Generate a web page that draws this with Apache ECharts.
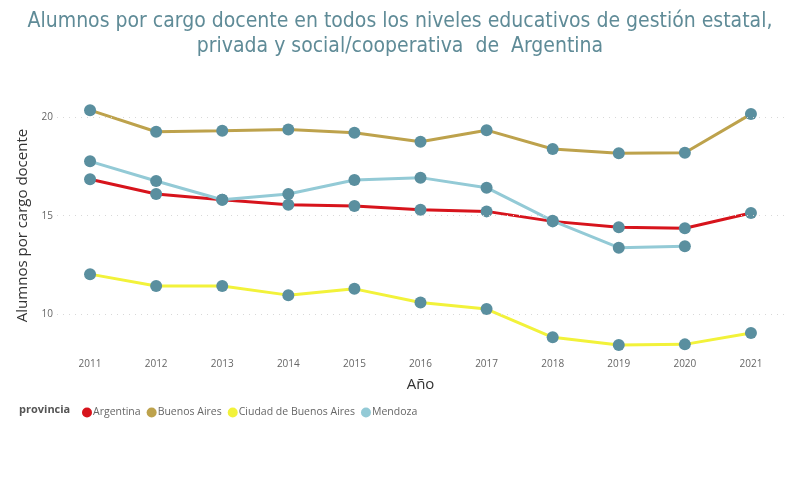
<!DOCTYPE html>
<html>
<head>
<meta charset="utf-8">
<script src="https://cdn.jsdelivr.net/npm/echarts@6/dist/echarts.min.js"></script>
<style>
  html, body { margin: 0; padding: 0; background: #fff; }
  #chart { width: 796px; height: 500px; }
</style>
</head>
<body>
<div id="chart"></div>
<script>
// datos
var anios = ['2011', '2012', '2013', '2014', '2015', '2016', '2017', '2018', '2019', '2020', '2021'];
var argentina = [16.86, 16.11, 15.81, 15.56, 15.49, 15.30, 15.22, 14.71, 14.41, 14.36, 15.14];
var buenosAires = [20.38, 19.28, 19.33, 19.40, 19.23, 18.77, 19.36, 18.40, 18.18, 18.21, 20.18];
var ciudadBA = [12.02, 11.42, 11.42, 10.95, 11.27, 10.57, 10.24, 8.80, 8.41, 8.44, 9.02];
var mendoza = [17.77, 16.77, 15.81, 16.11, 16.82, 16.94, 16.43, 14.74, 13.37, 13.44, null];
var ticksY = [10, 15, 20];

var nombres = ['Argentina', 'Buenos Aires', 'Ciudad de Buenos Aires', 'Mendoza'];
var colores = ['#d7141c', '#bda24c', '#f2f23a', '#93cad6'];
var marcador = '#5a8f9f';

var myChart = echarts.init(document.getElementById('chart'));

function serie(i, data) {
    return {
        name: nombres[i],
        type: 'line',
        data: data,
        symbol: 'circle',
        symbolSize: 12,
        lineStyle: { color: colores[i], width: 3 },
        itemStyle: { color: marcador, borderWidth: 0 },
        color: colores[i],
        emphasis: { disabled: true }
    };
}

var series = [
    serie(0, argentina),
    serie(1, buenosAires),
    serie(2, ciudadBA),
    serie(3, mendoza)
];
// líneas de grilla punteadas solo en 10, 15 y 20
series[0].markLine = {
    silent: true,
    symbol: 'none',
    label: { show: false },
    lineStyle: { color: '#d8d8d8', type: [1, 5], width: 1 },
    data: ticksY.map(function (v) { return { yAxis: v }; })
};

var option = {
    animation: false,
    graphic: [{
        type: 'text',
        x: 400,
        y: 9,
        style: {
            text: 'Alumnos por cargo docente en todos los niveles educativos de gestión estatal,\nprivada y social/cooperativa  de  Argentina',
            fontFamily: 'DejaVu Sans Condensed',
            fontSize: 21,
            lineHeight: 25,
            fill: '#5f8b97',
            align: 'center'
        }
    }, {
        type: 'text',
        left: 19,
        top: 404,
        style: {
            text: 'provincia',
            fontFamily: 'Open Sans',
            fontSize: 11,
            fontWeight: 'bold',
            fill: '#555'
        }
    }],
    legend: {
        data: nombres.map(function (n, i) {
            return { name: n, itemStyle: { color: colores[i] } };
        }),
        left: 77,
        top: 402,
        icon: 'circle',
        itemWidth: 10,
        itemHeight: 10,
        itemGap: 6,
        textStyle: { fontFamily: 'Open Sans', fontSize: 10.5, color: '#666', padding: [0, 0, 0, -4] }
    },
    grid: {
        left: 57,
        right: 12,
        top: 98,
        bottom: 147
    },
    xAxis: {
        type: 'category',
        data: anios,
        name: 'Año',
        nameLocation: 'middle',
        nameGap: 24,
        nameTextStyle: { fontFamily: 'Open Sans', fontSize: 15, color: '#333' },
        axisLine: { show: false },
        axisTick: { show: false },
        axisLabel: { fontFamily: 'Open Sans', fontSize: 10, color: '#666', margin: 6 }
    },
    yAxis: {
        type: 'value',
        min: 8,
        max: 21,
        interval: 1,
        name: 'Alumnos por cargo docente',
        nameLocation: 'middle',
        nameGap: 10,
        nameTextStyle: { fontFamily: 'Open Sans', fontSize: 15, color: '#333' },
        axisLine: { show: false },
        axisTick: { show: false },
        splitLine: { show: false },
        axisLabel: {
            fontFamily: 'Open Sans',
            fontSize: 10,
            color: '#666',
            margin: 4,
            formatter: function (v) { return ticksY.indexOf(v) >= 0 ? v : ''; }
        }
    },
    series: series
};

myChart.setOption(option);
</script>
</body>
</html>
